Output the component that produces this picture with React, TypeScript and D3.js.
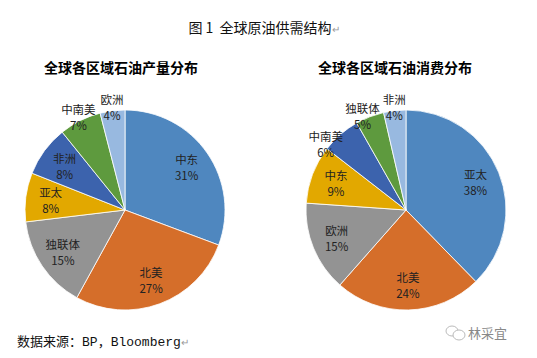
import React from "react";
import * as d3 from "d3";

// chart data
const prodRegions = ["中东", "北美", "独联体", "亚太", "非洲", "中南美", "欧洲"];
const prodValues = [30.7, 27.3, 15.1, 7.9, 8.2, 6.8, 4.0];
const prodColors = ["#4F87BF", "#D56E2A", "#939393", "#E2A800", "#3C63AD", "#5E9A3E", "#98B9E0"];

const consRegions = ["亚太", "北美", "欧洲", "中东", "中南美", "独联体", "非洲"];
const consValues = [37.7, 23.8, 14.6, 9.4, 6.3, 4.6, 3.6];
const consColors = ["#4F87BF", "#D56E2A", "#939393", "#E2A800", "#3C63AD", "#5E9A3E", "#98B9E0"];

const W = 537;
const H = 358;
const R = 100;
const FS = 11.5;
const cjk = "'Noto Sans CJK SC', 'Noto Sans', sans-serif";

type PieProps = {
  cx: number;
  cy: number;
  titleX: number;
  title: string;
  regions: string[];
  values: number[];
  colors: string[];
};

const Pie = ({ cx, cy, titleX, title, regions, values, colors }: PieProps) => {
  const total = d3.sum(values);
  const arcs = d3.pie<number>().sort(null).value((d) => d)(values);
  const arcGen = d3.arc<d3.PieArcDatum<number>>().innerRadius(0).outerRadius(R);

  // label positions: big slices inside, small ones just outside the rim
  const labels = arcs.map((a, i) => {
    const pct = (values[i] / total) * 100;
    const outside = pct < 7.5;
    const lr = outside ? R * 1.04 : R * 0.75;
    const ang = (a.startAngle + a.endAngle) / 2;
    const half = (regions[i].length * FS) / 2;
    return { pct, outside, lr, ang, half };
  });
  const pos = (l: { lr: number; ang: number }) => [Math.sin(l.ang) * l.lr, -Math.cos(l.ang) * l.lr];
  // walk backwards and nudge outside labels counter-clockwise when they collide
  for (let i = labels.length - 2; i >= 0; i--) {
    const cur = labels[i];
    const nxt = labels[i + 1];
    if (!cur.outside || !nxt.outside) continue;
    for (let k = 0; k < 60; k++) {
      const [x1, y1] = pos(cur);
      const [x2, y2] = pos(nxt);
      if (Math.abs(x1 - x2) >= cur.half + nxt.half + 2 || Math.abs(y1 - y2) >= 30) break;
      cur.ang -= 0.01;
    }
  }

  return (
    <g>
      <text x={titleX} y={73} textAnchor="middle" fontFamily={cjk} fontWeight="bold" fontSize={14} fill="#000">
        {title}
      </text>
      <g transform={`translate(${cx},${cy})`}>
        {arcs.map((a, i) => (
          <path key={i} d={arcGen(a) || ""} fill={colors[i]} stroke="#fff" strokeWidth={0.8} />
        ))}
        {labels.map((l, i) => {
          const [x, y] = pos(l);
          return (
            <g key={"l" + i} fontFamily={cjk} fontSize={FS} fill="#222" textAnchor="middle">
              <text x={x} y={y - 3}>{regions[i]}</text>
              <text x={x} y={y + 13}>{Math.round(l.pct)}%</text>
            </g>
          );
        })}
      </g>
    </g>
  );
};

export default function App() {
  return (
    <svg width={W} height={H} style={{ position: "absolute", left: 0, top: 0, background: "#fff" }}>
      <rect width={W} height={H} fill="#fff" />
      <text x={264} y={33} textAnchor="middle" fontFamily={cjk} fontSize={14} fill="#111">
        {"图\u00a01\u00a0\u00a0全球原油供需结构"}
        <tspan fill="#999" fontSize={10}>↵</tspan>
      </text>

      <Pie cx={125} cy={210} titleX={121} title="全球各区域石油产量分布" regions={prodRegions} values={prodValues} colors={prodColors} />
      <Pie cx={406} cy={210} titleX={395} title="全球各区域石油消费分布" regions={consRegions} values={consValues} colors={consColors} />

      <text x={17} y={346} fontSize={13} fill="#111">
        <tspan fontFamily={cjk}>数据来源：</tspan>
        <tspan fontFamily="'Liberation Mono', monospace">BP</tspan>
        <tspan fontFamily={cjk}>，</tspan>
        <tspan fontFamily="'Liberation Mono', monospace">Bloomberg</tspan>
        <tspan fill="#999" fontSize={10}>↵</tspan>
      </text>

      {/* watermark */}
      <g stroke="#bbb" fill="none" strokeWidth={1}>
        <ellipse cx={452} cy={331} rx={6} ry={5} />
        <ellipse cx={459} cy={335} rx={6} ry={5} fill="#fff" />
      </g>
      <text x={468} y={338} fontFamily={cjk} fontSize={13} fill="#888">林采宜</text>
    </svg>
  );
}
